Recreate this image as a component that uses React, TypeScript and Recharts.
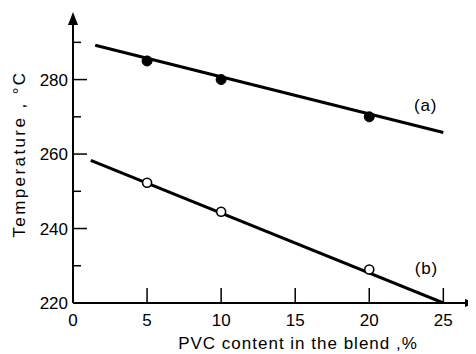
import React from 'react';
import { ComposedChart, Line, Scatter, XAxis, YAxis, ReferenceDot, Label } from 'recharts';

// Measured points
const pvcContent = [5, 10, 20];
const tempA = [285, 280, 270];
const tempB = [252.3, 244.5, 229];

// Drawn straight lines (end points)
const fitAX = [1.5, 25];
const fitAY = [289.2, 265.8];
const fitBX = [1.2, 25];
const fitBY = [258.3, 220];

// Axes
const xTicks = [0, 5, 10, 15, 20, 25];
const yTicks = [220, 230, 240, 250, 260, 270, 280, 290];
const yLabeledTicks = [220, 240, 260, 280];
const xDomain: [number, number] = [0, 26.8];
const yDomain: [number, number] = [220, 296];

// Curve labels
const curveNames = ['(a)', '(b)'];
const curveLabelX = [23.8, 23.85];
const curveLabelY = [273.2, 229.4];

const xTitle = 'PVC content in the blend ,%';
const yTitle = 'Temperature , \u00B0C';

const FONT = '"Liberation Sans", Arial, sans-serif';

const pointsA = pvcContent.map((x, i) => ({ x, y: tempA[i] }));
const pointsB = pvcContent.map((x, i) => ({ x, y: tempB[i] }));
const lineA = fitAX.map((x, i) => ({ x, y: fitAY[i] }));
const lineB = fitBX.map((x, i) => ({ x, y: fitBY[i] }));

const XTick = (props: any) => {
  const { x, y, payload } = props;
  return (
    <g>
      {payload.value !== 0 && (
        <line x1={x} x2={x} y1={y} y2={y - 15} stroke="#000" strokeWidth={1.5} />
      )}
      <text x={x} y={y + 23} textAnchor="middle" fontSize={17} fontFamily={FONT} fill="#000">
        {payload.value}
      </text>
    </g>
  );
};

const YTick = (props: any) => {
  const { x, y, payload } = props;
  const major = yLabeledTicks.includes(payload.value);
  return (
    <g>
      <line x1={x} x2={x + (major ? 14 : 8)} y1={y} y2={y} stroke="#000" strokeWidth={1.5} />
      {major && (
        <text x={x - 5} y={y + 6} textAnchor="end" fontSize={17} fontFamily={FONT} fill="#000">
          {payload.value}
        </text>
      )}
    </g>
  );
};

const filledDot = (p: any) => <circle cx={p.cx} cy={p.cy} r={5} fill="#000" stroke="#000" />;
const hollowDot = (p: any) => (
  <circle cx={p.cx} cy={p.cy} r={4.5} fill="#fff" stroke="#000" strokeWidth={1.6} />
);

const rightArrow = (p: any) => (
  <polygon points={`${p.cx + 5},${p.cy} ${p.cx - 5},${p.cy - 4} ${p.cx - 5},${p.cy + 4}`} fill="#000" />
);
const upArrow = (p: any) => (
  <polygon points={`${p.cx},${p.cy - 8} ${p.cx - 5},${p.cy + 5} ${p.cx + 5},${p.cy + 5}`} fill="#000" />
);

const textShape = (name: string) => (p: any) => (
  <text x={p.cx} y={p.cy + 6} textAnchor="middle" fontSize={17} fontFamily={FONT} fill="#000" letterSpacing={0.8}>
    {name}
  </text>
);

export default function App() {
  return (
    <ComposedChart
      width={468}
      height={346}
      margin={{ top: 12, right: 6, left: 0, bottom: 0 }}
      style={{ background: '#fff' }}
    >
      <XAxis
        type="number"
        dataKey="x"
        domain={xDomain}
        ticks={xTicks}
        interval={0}
        allowDataOverflow
        tickSize={0}
        tickMargin={0}
        tickLine={false}
        tick={XTick}
        axisLine={{ stroke: '#000', strokeWidth: 2 }}
        height={51}
      >
        <Label
          content={(lp: any) => {
            const vb = lp.viewBox;
            return (
              <text
                x={vb.x + 225}
                y={vb.y + 46}
                textAnchor="middle"
                fontSize={17}
                fontFamily={FONT}
                fill="#000"
                letterSpacing={1}
              >
                {xTitle}
              </text>
            );
          }}
        />
      </XAxis>
      <YAxis
        type="number"
        domain={yDomain}
        ticks={yTicks}
        interval={0}
        allowDataOverflow
        tickSize={0}
        tickMargin={0}
        tickLine={false}
        tick={YTick}
        axisLine={{ stroke: '#000', strokeWidth: 2 }}
        width={65}
      >
        <Label
          content={(lp: any) => {
            const vb = lp.viewBox;
            const cx = vb.x + 17;
            const cy = 146;
            return (
              <text
                x={cx}
                y={cy}
                transform={`rotate(-90 ${cx} ${cy})`}
                textAnchor="middle"
                fontSize={17}
                fontFamily={FONT}
                fill="#000"
                letterSpacing={2.4}
              >
                {yTitle}
              </text>
            );
          }}
        />
      </YAxis>

      <Line data={lineA} dataKey="y" type="linear" stroke="#000" strokeWidth={3} dot={false} activeDot={false} isAnimationActive={false} />
      <Line data={lineB} dataKey="y" type="linear" stroke="#000" strokeWidth={3} dot={false} activeDot={false} isAnimationActive={false} />
      <Scatter data={pointsA} dataKey="y" shape={filledDot} isAnimationActive={false} />
      <Scatter data={pointsB} dataKey="y" shape={hollowDot} isAnimationActive={false} />

      <ReferenceDot x={xDomain[1]} y={yDomain[0]} shape={rightArrow} ifOverflow="visible" />
      <ReferenceDot x={xDomain[0]} y={yDomain[1]} shape={upArrow} ifOverflow="visible" />

      {curveNames.map((n, i) => (
        <ReferenceDot key={n} x={curveLabelX[i]} y={curveLabelY[i]} shape={textShape(n)} ifOverflow="visible" />
      ))}
    </ComposedChart>
  );
}
